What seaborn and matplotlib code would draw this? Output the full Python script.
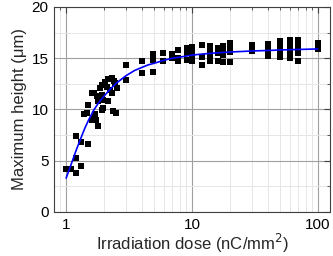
import matplotlib
matplotlib.use("Agg")
import matplotlib.pyplot as plt
import seaborn as sns
import pandas as pd
from matplotlib.ticker import FixedLocator, LogLocator, MultipleLocator, NullFormatter

# Measured points: irradiation dose (nC/mm^2) and maximum height (um)
dose = [1.00, 1.09, 1.19, 1.31, 1.20, 1.31, 1.19, 1.50, 1.80,
        1.39, 1.46, 1.60, 1.65, 1.73, 1.50, 1.60, 1.68, 1.75, 1.86,
        1.92, 2.04, 2.17, 2.30, 2.40, 2.10, 2.23, 2.30, 2.45, 2.52,
        1.92, 1.98, 2.16, 1.80, 1.98, 2.37, 1.70, 1.92, 2.50,
        3.00, 3.00, 4.0, 4.0, 4.93, 4.93, 4.93, 5.9, 5.9, 6.9, 6.9,
        7.8, 7.8, 7.8, 9.1, 9.1, 9.1,
        10, 10, 10, 10, 12.1, 12.1, 12.1, 14, 14, 14, 14,
        16, 16, 16, 17.6, 17.6, 17.6, 17.6, 20, 20, 20, 20,
        30, 30, 40, 40, 40, 50, 50, 50, 50,
        60, 60, 60, 60, 60, 70, 70, 70, 70, 70, 100, 100]
height = [4.2, 4.2, 3.8, 4.5, 5.3, 6.8, 7.45, 6.6, 8.4,
          9.6, 9.7, 9.0, 9.1, 9.0, 10.4, 11.6, 11.6, 11.35, 12.1,
          12.4, 12.7, 12.95, 13.05, 12.8, 12.2, 11.9, 11.6, 12.55, 12.1,
          11.4, 10.9, 10.8, 10.8, 10.1, 9.8, 9.6, 9.95, 9.7,
          14.3, 12.85, 14.7, 13.6, 15.4, 14.8, 13.7, 15.55, 14.7, 15.4, 15.0,
          15.8, 15.0, 14.7, 16.0, 15.5, 14.8,
          16.1, 15.6, 15.1, 14.7, 16.3, 15.15, 14.3, 16.2, 15.8, 15.2, 14.7,
          16.0, 15.5, 14.7, 16.2, 15.8, 15.3, 14.65, 16.5, 16.1, 15.6, 14.6,
          16.3, 15.7, 16.4, 15.8, 15.2, 16.7, 16.2, 15.6, 15.1,
          16.8, 16.4, 15.9, 15.55, 15.05, 16.8, 16.4, 15.9, 15.55, 14.75, 16.45, 15.9]

# Fitted curve
fit_dose = [1.0, 1.1, 1.2, 1.3, 1.4, 1.5, 1.65, 1.8, 2.0, 2.25, 2.5, 2.75, 3.0,
            3.5, 4.0, 4.5, 5.0, 6.0, 7.0, 8.0, 10, 12, 15, 20, 30, 40, 50, 70, 100]
fit_height = [3.3, 4.7, 6.0, 7.1, 8.1, 8.9, 9.9, 10.6, 11.3, 12.0, 12.55, 12.95, 13.3,
              13.8, 14.1, 14.35, 14.5, 14.8, 15.0, 15.1, 15.3, 15.4, 15.5, 15.6, 15.7, 15.75, 15.8, 15.85, 15.9]

xticks = [1, 10, 100]
xtick_labels = ["1", "10", "100"]
yticks = [0, 5, 10, 15, 20]

sns.set_theme(style="white")
plt.rcParams['font.family'] = ['Liberation Sans', 'DejaVu Sans']

df = pd.DataFrame({"dose": dose, "height": height})
fit = pd.DataFrame({"dose": fit_dose, "height": fit_height})

fig = plt.figure(figsize=(3.33, 2.56), dpi=100)
ax = fig.add_axes([0.162, 0.172, 0.829, 0.801])

sns.scatterplot(data=df, x="dose", y="height", ax=ax, marker='s', s=16,
                color='black', linewidth=0, zorder=3)
sns.lineplot(data=fit, x="dose", y="height", ax=ax, color='#0000ff', lw=1.2,
             sort=False, estimator=None, zorder=4)

ax.set_xscale('log')
ax.set_xlim(0.8, 125)
ax.set_ylim(0, 20)

ax.xaxis.set_major_locator(FixedLocator(xticks))
ax.set_xticklabels(xtick_labels)
ax.xaxis.set_minor_locator(LogLocator(base=10, subs=range(2, 10)))
ax.xaxis.set_minor_formatter(NullFormatter())
ax.set_yticks(yticks)
ax.yaxis.set_minor_locator(MultipleLocator(2.5))

ax.grid(True, which='major', color='#a0a0a0', lw=0.8)
ax.grid(True, which='minor', color='#e6e6e6', lw=0.7)
ax.set_axisbelow(True)

ax.tick_params(which='both', direction='in', top=True, right=True,
               colors='#404040', labelcolor='black', labelsize=11, pad=4)
ax.tick_params(which='major', length=4, width=0.8)
ax.tick_params(which='minor', length=2.5, width=0.6)
for s in ax.spines.values():
    s.set_color('#404040')
    s.set_linewidth(0.8)

ax.set_xlabel("Irradiation dose (nC/mm$^2$)", fontsize=12, labelpad=0)
ax.set_ylabel("Maximum height (μm)", fontsize=12, labelpad=3)

fig.savefig("out.png", dpi=100)
